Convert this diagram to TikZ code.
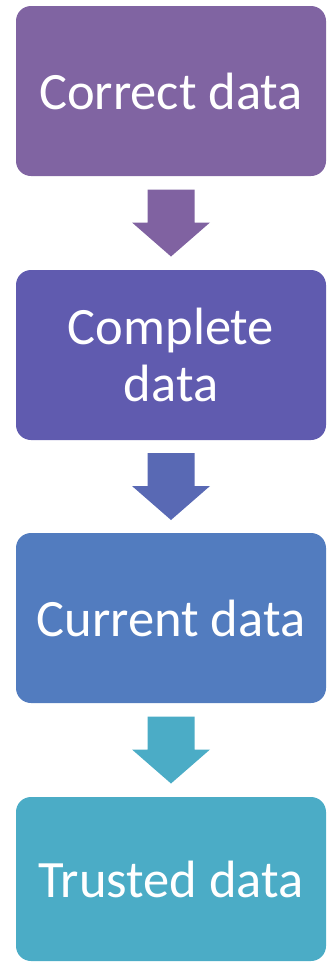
\documentclass[tikz,border=0pt]{standalone}
\usepackage{fontspec}
\setmainfont{Carlito}
\usetikzlibrary{calc, positioning}
\definecolor{step_purple}{RGB}{128,100,162}
\definecolor{step_indigo}{RGB}{96,91,175}
\definecolor{step_blue}{RGB}{82,124,191}
\definecolor{step_teal}{RGB}{75,172,198}
\definecolor{arrow_purple}{RGB}{128,98,161}
\definecolor{arrow_indigo}{RGB}{89,105,180}
\definecolor{arrow_teal}{RGB}{75,172,198}
\newcommand{\blockarrow}[2]{%
  \fill[#2] ($(#1)+(-23.5,-33.5)$) -- ++(47,0) -- ++(0,33) -- ++(15.5,0)
    -- ($(#1)+(0,33.5)$) -- ($(#1)+(-39,-0.5)$) -- ++(15.5,0) -- cycle;}

\begin{document}
\begin{tikzpicture}[x=1pt, y=-1pt, every node/.style={rectangle, rounded corners=15pt, minimum width=310pt, minimum height=170pt, text=white, align=center, font=\fontsize{52.5}{57}\selectfont}]
      \useasboundingbox (0,0) rectangle (332,962);
      \node[fill=step_purple] (correct) at (171,91) {Correct data};
      \node[fill=step_indigo] (complete) at (171,355) {Complete\\data};
      \node[fill=step_blue] (current) at (171,618) {Current data};
      \node[fill=step_teal, minimum height=164pt] (trusted) at (171,879) {Trusted data};
      \path (correct.south) -- (complete.north) coordinate[midway] (m1);
      \path (complete.south) -- (current.north) coordinate[midway] (m2);
      \path (current.south) -- (trusted.north) coordinate[midway] (m3);
      \blockarrow{m1}{arrow_purple}
      \blockarrow{m2}{arrow_indigo}
      \blockarrow{m3}{arrow_teal}
    \end{tikzpicture}
\end{document}
